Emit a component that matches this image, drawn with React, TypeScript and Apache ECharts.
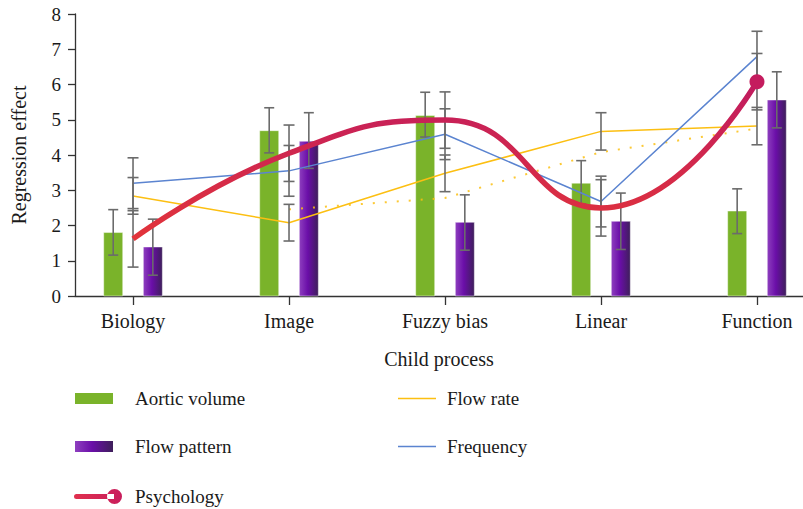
import React, { useEffect, useRef } from 'react';
import * as echarts from 'echarts';

const categories = ['Biology', 'Image', 'Fuzzy bias', 'Linear', 'Function'];
const categoryIndex = [0, 1, 2, 3, 4];

const aorticVolume = [1.8, 4.69, 5.12, 3.2, 2.41];
const aorticLow = [1.16, 4.06, 4.51, 2.61, 1.77];
const aorticHigh = [2.45, 5.34, 5.78, 3.84, 3.04];

const flowPattern = [1.39, 4.39, 2.09, 2.12, 5.56];
const flowPatternLow = [0.59, 3.62, 1.3, 1.32, 4.77];
const flowPatternHigh = [2.18, 5.2, 2.87, 2.92, 6.36];

const flowRate = [2.84, 2.08, 3.48, 4.67, 4.82];
const flowRateErr = [0.52, 0.52, 0.52, 0.53, 0.53];
const flowRateTrend = [null, 2.46, 2.78, 4.08, 4.75];

const frequency = [3.2, 3.55, 4.59, 2.68, 6.79];
const frequencyErr = [0.72, 0.72, 0.72, 0.72, 0.72];

const psychology = [1.62, 4.05, 4.99, 2.5, 6.08];
const psychologyErr = [0.8, 0.8, 0.8, 0.8, 0.8];

const FONT = '"Liberation Serif", "DejaVu Serif", serif';
const TEXT = '#1a1a1a';
const AXIS = '#333333';
const ERR = '#6b6b6b';
const GREEN = '#7ab32a';
const BLUE = '#5b84d0';
const YELLOW = '#fcbf12';

const BAR_SHIFT = 0.127;
const BAR_W = 0.122;

function purpleGradient() {
  return new echarts.graphic.LinearGradient(0, 0, 1, 0, [
    { offset: 0, color: '#8e3fbf' },
    { offset: 0.45, color: '#6a0ea8' },
    { offset: 1, color: '#3e1f5a' },
  ]);
}

function barRenderer(shift: number, fillFn: () => any) {
  return (_params: any, api: any) => {
    const i = api.value(0);
    const v = api.value(1);
    const unit = api.size([1, 0])[0];
    const base = api.coord([i + shift, 0]);
    const top = api.coord([i + shift, v]);
    const w = BAR_W * unit;
    return {
      type: 'rect',
      shape: { x: base[0] - w / 2, y: top[1], width: w, height: base[1] - top[1] },
      style: { fill: fillFn(), stroke: 'rgba(255,255,255,0.45)', lineWidth: 1 },
    };
  };
}

function errRenderer(shift: number, capHalf: number) {
  return (_params: any, api: any) => {
    const i = api.value(0);
    const lo = api.coord([i + shift, api.value(1)]);
    const hi = api.coord([i + shift, api.value(2)]);
    const style = { stroke: ERR, lineWidth: 1.6 };
    return {
      type: 'group',
      children: [
        { type: 'line', shape: { x1: lo[0], y1: lo[1], x2: hi[0], y2: hi[1] }, style },
        { type: 'line', shape: { x1: lo[0] - capHalf, y1: lo[1], x2: lo[0] + capHalf, y2: lo[1] }, style },
        { type: 'line', shape: { x1: hi[0] - capHalf, y1: hi[1], x2: hi[0] + capHalf, y2: hi[1] }, style },
      ],
    };
  };
}

const lineIcon = 'path://M0,0H38V1.4H0Z';
const psychIcon =
  'path://M2.5,5H40V10H2.5A2.5,2.5 0 0 1 2.5,5Z M33,7.5A7.5,7.5 0 1 0 48,7.5A7.5,7.5 0 1 0 33,7.5Z';

export default function App() {
  const ref = useRef<HTMLDivElement>(null);
  useEffect(() => {
    const chart = echarts.init(ref.current!, null, { renderer: 'svg' });
    const lineErrData = (vals: number[], errs: number[]) =>
      vals.map((v, i) => [categoryIndex[i], v - errs[i], v + errs[i]]);
    const legendText = (padLeft: number) => ({
      fontSize: 19,
      fontFamily: FONT,
      color: TEXT,
      padding: [0, 0, 0, padLeft],
    });
    const option: any = {
      animation: false,
      backgroundColor: '#ffffff',
      grid: { left: 75, right: 0, top: 14, bottom: 213, containLabel: false, outerBoundsMode: 'none' },
      xAxis: {
        type: 'value',
        min: -0.372,
        max: 4.295,
        axisLine: { show: true, onZero: false, lineStyle: { color: AXIS, width: 1.3 } },
        axisTick: { show: true, customValues: categoryIndex, length: 9, lineStyle: { color: AXIS, width: 1.3 } },
        axisLabel: {
          customValues: categoryIndex,
          formatter: (v: number) => categories[Math.round(v)],
          fontSize: 20,
          fontFamily: FONT,
          color: TEXT,
          margin: 15,
        },
        splitLine: { show: false },
        name: 'Child process',
        nameLocation: 'middle',
        nameGap: 53,
        nameMoveOverlap: false,
        nameTextStyle: { fontSize: 20, fontFamily: FONT, color: TEXT },
      },
      yAxis: {
        type: 'value',
        min: 0,
        max: 8,
        interval: 1,
        axisLine: { show: true, onZero: false, lineStyle: { color: AXIS, width: 1.3 } },
        axisTick: { show: true, length: 7, lineStyle: { color: AXIS, width: 1.3 } },
        axisLabel: { fontSize: 19, fontFamily: FONT, color: TEXT, margin: 14 },
        splitLine: { show: false },
        name: 'Regression effect',
        nameLocation: 'middle',
        nameGap: 46,
        nameMoveOverlap: false,
        nameTextStyle: { fontSize: 20, fontFamily: FONT, color: TEXT },
      },
      legend: [
        {
          left: 75,
          top: 389,
          orient: 'vertical',
          padding: 0,
          itemWidth: 38,
          itemHeight: 11,
          itemGap: 29,
          textStyle: legendText(17),
          data: [
            { name: 'Aortic volume', icon: 'rect', itemStyle: { color: GREEN, borderWidth: 0 } },
            { name: 'Flow pattern', icon: 'rect', itemStyle: { color: purpleGradient(), borderWidth: 0 } },
          ],
        },
        {
          left: 398,
          top: 389,
          orient: 'vertical',
          padding: 0,
          itemWidth: 38,
          itemHeight: 11,
          itemGap: 29,
          textStyle: legendText(6),
          data: [
            { name: 'Flow rate', icon: lineIcon, itemStyle: { color: YELLOW, borderWidth: 0 } },
            { name: 'Frequency', icon: lineIcon, itemStyle: { color: BLUE, borderWidth: 0 } },
          ],
        },
        {
          left: 74,
          top: 487,
          orient: 'vertical',
          padding: 0,
          itemWidth: 48,
          itemHeight: 15,
          textStyle: legendText(8),
          data: [
            {
              name: 'Psychology',
              icon: psychIcon,
              itemStyle: {
                borderWidth: 0,
                color: new echarts.graphic.LinearGradient(0, 0, 1, 0, [
                  { offset: 0, color: '#e0304e' },
                  { offset: 1, color: '#c81d5c' },
                ]),
              },
            },
          ],
        },
      ],
      series: [
        {
          name: 'Aortic volume',
          type: 'custom',
          z: 2,
          itemStyle: { color: GREEN },
          encode: { x: 0, y: 1 },
          data: aorticVolume.map((v, i) => [categoryIndex[i], v]),
          renderItem: barRenderer(-BAR_SHIFT, () => GREEN),
        },
        {
          name: 'Flow pattern',
          type: 'custom',
          z: 2,
          itemStyle: { color: '#6a0ea8' },
          encode: { x: 0, y: 1 },
          data: flowPattern.map((v, i) => [categoryIndex[i], v]),
          renderItem: barRenderer(BAR_SHIFT, purpleGradient),
        },
        {
          name: 'Aortic volume error',
          type: 'custom',
          z: 3,
          encode: { x: 0, y: [1, 2] },
          data: aorticVolume.map((_, i) => [categoryIndex[i], aorticLow[i], aorticHigh[i]]),
          renderItem: errRenderer(-BAR_SHIFT, 5),
        },
        {
          name: 'Flow pattern error',
          type: 'custom',
          z: 3,
          encode: { x: 0, y: [1, 2] },
          data: flowPattern.map((_, i) => [categoryIndex[i], flowPatternLow[i], flowPatternHigh[i]]),
          renderItem: errRenderer(BAR_SHIFT, 5),
        },
        {
          name: 'Flow rate',
          type: 'line',
          z: 4,
          symbol: 'none',
          color: YELLOW,
          lineStyle: { color: YELLOW, width: 1.5 },
          data: flowRate.map((v, i) => [categoryIndex[i], v]),
        },
        {
          name: 'Flow rate trend',
          type: 'line',
          z: 4,
          symbol: 'none',
          lineStyle: { color: YELLOW, width: 2, type: [2, 10], cap: 'butt', opacity: 0.85 },
          data: flowRateTrend.map((v, i) => [categoryIndex[i], v]),
        },
        {
          name: 'Frequency',
          type: 'line',
          z: 4,
          symbol: 'none',
          color: BLUE,
          lineStyle: { color: BLUE, width: 1.5 },
          data: frequency.map((v, i) => [categoryIndex[i], v]),
        },
        {
          name: 'Line errors flow rate',
          type: 'custom',
          z: 5,
          encode: { x: 0, y: [1, 2] },
          data: lineErrData(flowRate, flowRateErr),
          renderItem: errRenderer(0, 5.5),
        },
        {
          name: 'Line errors frequency',
          type: 'custom',
          z: 5,
          encode: { x: 0, y: [1, 2] },
          data: lineErrData(frequency, frequencyErr),
          renderItem: errRenderer(0, 5.5),
        },
        {
          name: 'Line errors psychology',
          type: 'custom',
          z: 5,
          encode: { x: 0, y: [1, 2] },
          data: lineErrData(psychology, psychologyErr),
          renderItem: errRenderer(0, 5.5),
        },
        {
          name: 'Psychology',
          type: 'line',
          z: 6,
          smooth: 0.5,
          color: '#c81d5c',
          lineStyle: {
            width: 5.5,
            color: new echarts.graphic.LinearGradient(0, 0, 0, 1, [
              { offset: 0, color: '#c01b60' },
              { offset: 1, color: '#e2343a' },
            ]),
          },
          itemStyle: { color: '#c41c5e' },
          data: psychology.map((v, i) =>
            i === psychology.length - 1
              ? { value: [categoryIndex[i], v], symbol: 'circle', symbolSize: 15 }
              : { value: [categoryIndex[i], v], symbol: 'none' }
          ),
        },
      ],
    };
    chart.setOption(option);
    return () => chart.dispose();
  }, []);
  return (
    <div
      ref={ref}
      style={{ position: 'fixed', left: 0, top: 0, width: 803, height: 509, background: '#fff' }}
    />
  );
}
